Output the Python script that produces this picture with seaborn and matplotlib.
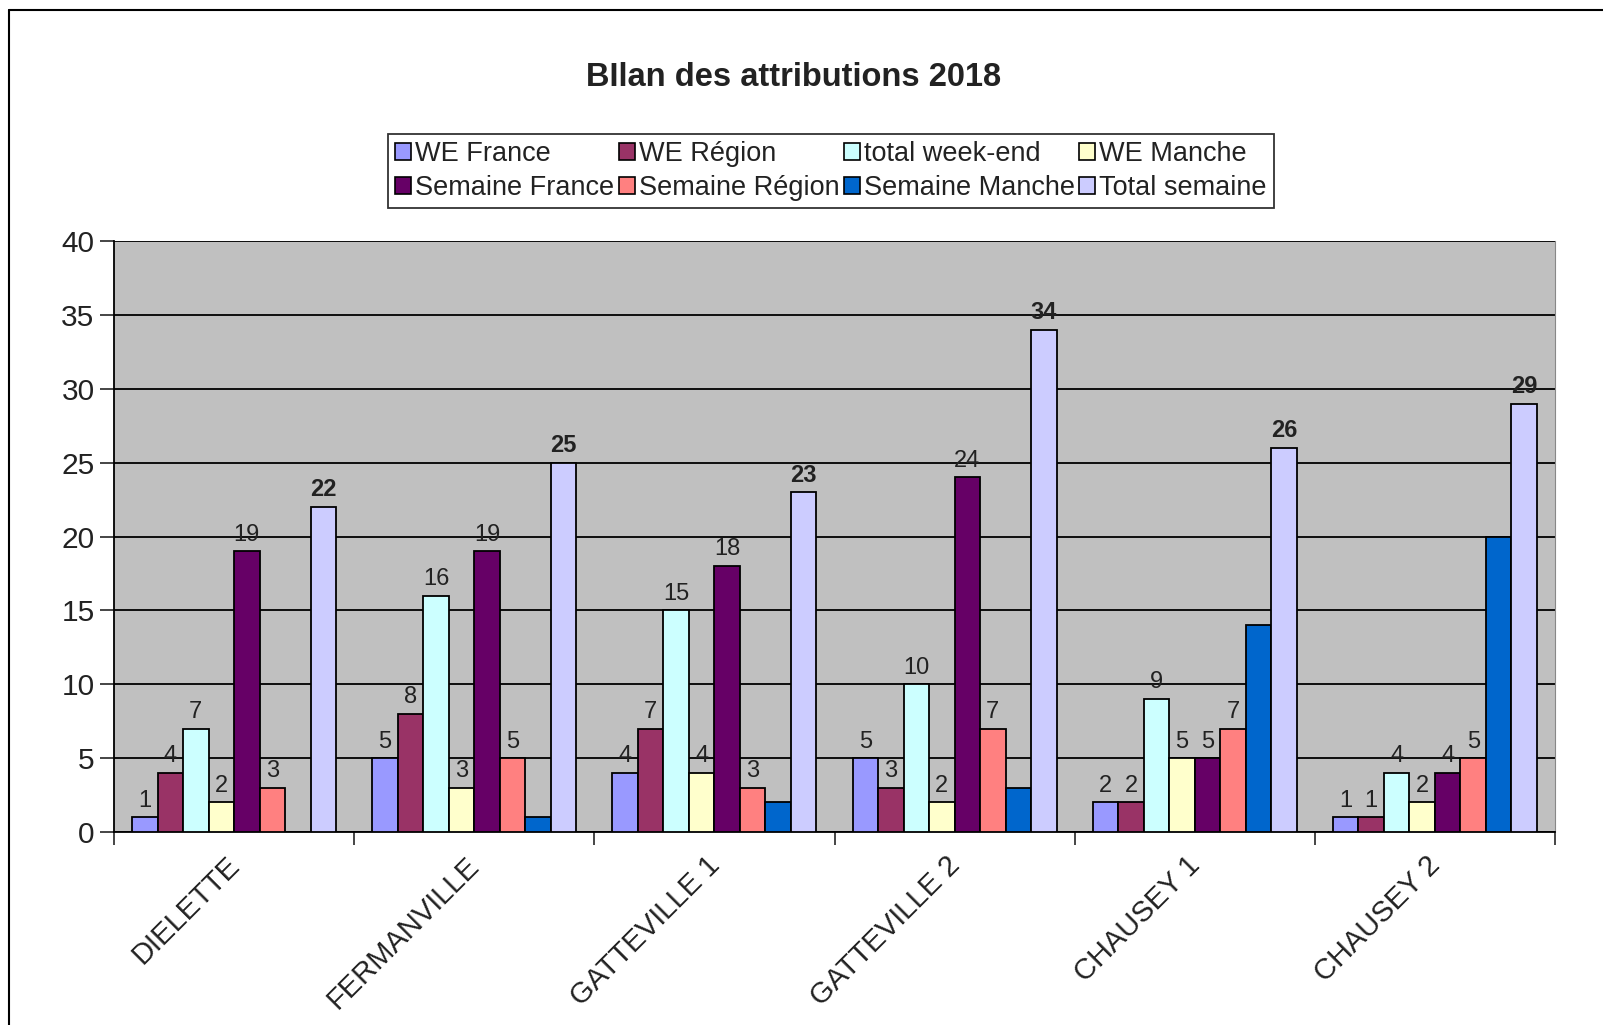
import numpy as np
import pandas as pd
import matplotlib
matplotlib.use("Agg")
import matplotlib.pyplot as plt
import matplotlib.transforms as mtransforms
from matplotlib.lines import Line2D
import seaborn as sns

# données
sites = ["DIELETTE", "FERMANVILLE", "GATTEVILLE 1", "GATTEVILLE 2", "CHAUSEY 1", "CHAUSEY 2"]
series = ["WE France", "WE Région", "total week-end", "WE Manche",
          "Semaine France", "Semaine Région", "Semaine Manche", "Total semaine"]
we_france = [1, 5, 4, 5, 2, 1]
we_region = [4, 8, 7, 3, 2, 1]
total_we = [7, 16, 15, 10, 9, 4]
we_manche = [2, 3, 4, 2, 5, 2]
sem_france = [19, 19, 18, 24, 5, 4]
sem_region = [3, 5, 3, 7, 7, 5]
sem_manche = [0, 1, 2, 3, 14, 20]
total_sem = [22, 25, 23, 34, 26, 29]
couleurs = ["#9999FF", "#993366", "#CCFFFF", "#FFFFCC",
            "#660066", "#FF8080", "#0066CC", "#CCCCFF"]

valeurs = [we_france, we_region, total_we, we_manche, sem_france, sem_region, sem_manche, total_sem]
df = pd.DataFrame([(s, serie, v[i]) for serie, v in zip(series, valeurs) for i, s in enumerate(sites)],
                  columns=["site", "serie", "valeur"])

sns.set_style("white")
plt.rcParams['font.family'] = ['Liberation Sans', 'DejaVu Sans']

fig = plt.figure(figsize=(16.03, 10.25), dpi=100)
ax = fig.add_axes([114/1603, 1-832/1025, (1555-114)/1603, (832-241)/1025])
ax.set_facecolor("#C0C0C0")

sns.barplot(data=df, x="site", y="valeur", hue="serie", hue_order=series, order=sites,
            palette=couleurs, edgecolor="black", linewidth=1.3, width=0.85, gap=0,
            saturation=1, ax=ax, legend=False, zorder=3)

# étiquettes des valeurs (pas pour Semaine Manche, gras pour Total semaine)
for serie, cont in zip(series, ax.containers):
    if serie == "Semaine Manche":
        continue
    poids = "bold" if serie == "Total semaine" else "normal"
    ax.bar_label(cont, labels=[f"{int(b.get_height())}" for b in cont], padding=4,
                 fontsize=17, fontweight=poids, color="#222222")

ax.set_ylim(0, 40)
ax.set_xlim(-0.5, len(sites) - 0.5)
ax.set_yticks(np.arange(0, 41, 5))
ax.yaxis.grid(True, color="black", linewidth=1.3, zorder=0)
ax.set_axisbelow(True)
ax.tick_params(axis="y", length=10, width=1.2, labelsize=21.5, pad=4, direction="out", left=True,
               labelcolor="#222222")
ax.set_xticks(range(len(sites)))
ax.set_xticklabels(sites, rotation=45, ha="right", rotation_mode="anchor", fontsize=21,
                   color="#222222")
ax.tick_params(axis="x", length=0, pad=14)
# petit décalage vers la gauche des noms de sites
decalage = mtransforms.ScaledTranslation(-9/100, 0, fig.dpi_scale_trans)
for lab in ax.get_xticklabels():
    lab.set_transform(lab.get_transform() + decalage)
ax.set_xticks(np.arange(-0.5, len(sites), 1), minor=True)
ax.tick_params(axis="x", which="minor", length=9, width=1.2, direction="out", bottom=True)
ax.set_xlabel("")
ax.set_ylabel("")
ax.spines["top"].set_visible(False)
ax.spines["right"].set_color("#888888")
ax.spines["left"].set_color("black")
ax.spines["bottom"].set_color("black")
ax.spines["left"].set_linewidth(1.3)
ax.spines["bottom"].set_linewidth(1.3)

# titre
fig.text(794/1603, 1-77/1025, "BIlan des attributions 2018", ha="center", va="center",
         fontsize=23.5, fontweight="bold", color="#222222")

# légende en 4 colonnes, remplie ligne par ligne
handles = [plt.Rectangle((0, 0), 1, 1, facecolor=c, edgecolor="black", linewidth=1.2) for c in couleurs]
ordre = [0, 4, 1, 5, 2, 6, 3, 7]
leg = fig.legend([handles[i] for i in ordre], [series[i] for i in ordre], ncol=4,
                 loc="center", bbox_to_anchor=(831/1603, 1-171/1025), fontsize=19.5,
                 frameon=True, fancybox=False, handlelength=0.6, handleheight=0.6,
                 handletextpad=0.15, columnspacing=0.15, borderpad=0.25, labelspacing=0.3,
                 borderaxespad=0)
leg.get_frame().set_edgecolor("black")
leg.get_frame().set_linewidth(1.3)
for t in leg.get_texts():
    t.set_color("#222222")

# cadre du graphique
fig.add_artist(Line2D([9/1603, 9/1603], [0, 1-10/1025], color="black", linewidth=1.5))
fig.add_artist(Line2D([9/1603, 1], [1-10/1025, 1-10/1025], color="black", linewidth=1.5))

fig.savefig("out.png", dpi=100)
